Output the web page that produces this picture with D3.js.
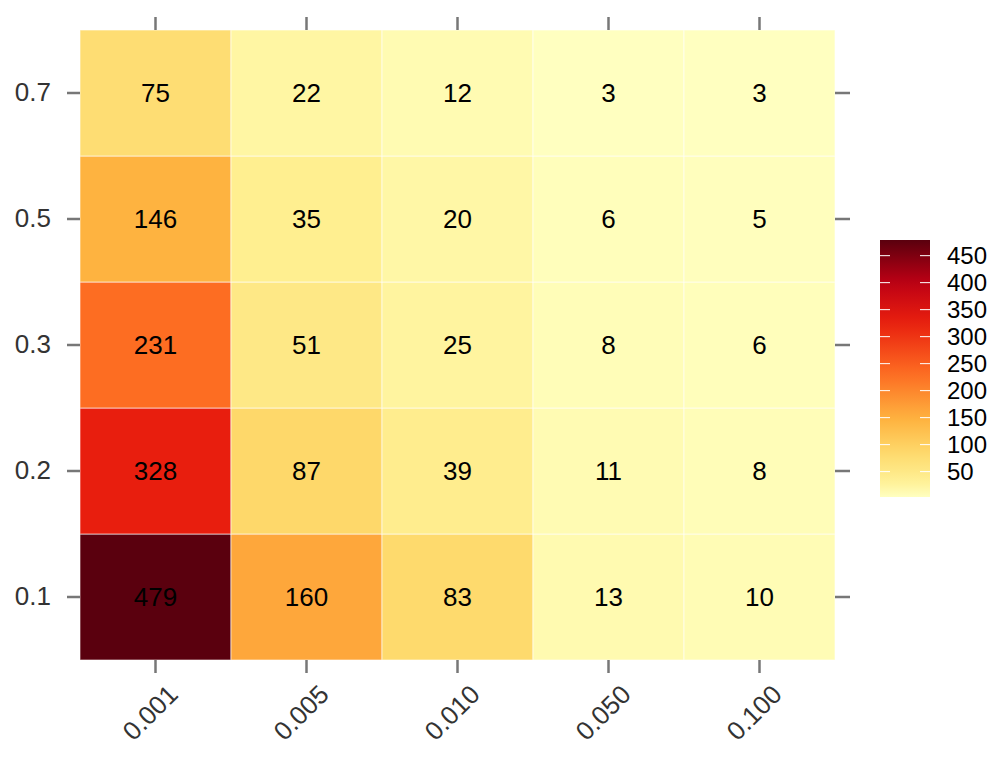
<!DOCTYPE html>
<html>
<head>
<meta charset="utf-8">
<script src="https://cdn.jsdelivr.net/npm/d3@7"></script>
<style>
  body { margin: 0; background: #fff; }
  text { font-family: "Liberation Sans", Arial, sans-serif; }
</style>
</head>
<body>
<script>
// categories
const xLabels = ["0.001", "0.005", "0.010", "0.050", "0.100"];
const yLabels = ["0.1", "0.2", "0.3", "0.5", "0.7"];

// counts, one row per y category (bottom to top), columns follow xLabels
const row01 = [479, 160, 83, 13, 10];
const row02 = [328, 87, 39, 11, 8];
const row03 = [231, 51, 25, 8, 6];
const row05 = [146, 35, 20, 6, 5];
const row07 = [75, 22, 12, 3, 3];
const rows = [row01, row02, row03, row05, row07];

// colour bar ticks
const legendTicks = [50, 100, 150, 200, 250, 300, 350, 400, 450];

const width = 1005;
const height = 758;
const margin = { top: 30, right: 170, bottom: 98, left: 80 };
const plotWidth = width - margin.left - margin.right;
const plotHeight = height - margin.top - margin.bottom;
const fontSize = "26px";

var cells = [];
rows.forEach(function(r, i) {
	r.forEach(function(v, j) {
		cells.push({ x: xLabels[j], y: yLabels[i], value: v });
	});
});

var svg = d3.select("body").append("svg")
	.attr("width", width)
	.attr("height", height);

var plot = svg.append("g")
	.attr("transform", `translate(${margin.left},${margin.top})`);

var xScale = d3.scaleBand().domain(xLabels).range([0, plotWidth]);
var yScale = d3.scaleBand().domain(yLabels).range([plotHeight, 0]);

// colour ramp
var minV = d3.min(cells, d => d.value);
var maxV = d3.max(cells, d => d.value);
var stopVals = [3, 13, 35, 51, 87, 146, 231, 328, 400, 479];
var stopCols = ["#ffffc0", "#fffab0", "#ffef90", "#fee886", "#fed86a",
	"#feb340", "#fd6d22", "#e81e0e", "#bd0015", "#5a000e"];
var color = d3.scaleLinear().domain(stopVals).range(stopCols)
	.interpolate(d3.interpolateRgb).clamp(true);

// cells
plot.selectAll(".cell").data(cells).enter().append("rect")
	.classed("cell", true)
	.attr("x", d => xScale(d.x))
	.attr("y", d => yScale(d.y))
	.attr("width", xScale.bandwidth())
	.attr("height", yScale.bandwidth())
	.attr("fill", d => color(d.value))
	.attr("stroke", "rgba(255,255,255,0.6)")
	.attr("stroke-width", 1);

plot.selectAll(".lab").data(cells).enter().append("text")
	.classed("lab", true)
	.attr("x", d => xScale(d.x) + xScale.bandwidth() / 2)
	.attr("y", d => yScale(d.y) + yScale.bandwidth() / 2)
	.attr("dy", "0.36em")
	.attr("text-anchor", "middle")
	.style("font-size", fontSize)
	.attr("fill", "#000")
	.text(d => d.value);

// axes, ticks on all four sides
var tickColor = "#777";
function styleAxis(g) {
	g.select(".domain").remove();
	g.selectAll(".tick line").attr("stroke", tickColor).attr("stroke-width", 2.5);
	g.selectAll(".tick text").attr("fill", "#333").style("font-size", fontSize)
		.style("font-family", "'Liberation Sans', Arial, sans-serif");
}

var xAxisB = plot.append("g")
	.attr("transform", `translate(0,${plotHeight})`)
	.call(d3.axisBottom(xScale).tickSize(13).tickPadding(4))
	.call(styleAxis);
xAxisB.selectAll(".tick text")
	.attr("text-anchor", "end")
	.attr("dy", 0)
	.attr("transform", "translate(12,24) rotate(-45)");

plot.append("g")
	.call(d3.axisTop(xScale).tickSize(13).tickFormat(""))
	.call(styleAxis);

plot.append("g")
	.call(d3.axisLeft(yScale).tickSize(13).tickPadding(16))
	.call(styleAxis);

plot.append("g")
	.attr("transform", `translate(${plotWidth},0)`)
	.call(d3.axisRight(yScale).tickSize(15).tickFormat(""))
	.call(styleAxis);

// colour bar
var barX = 880, barTop = 240, barBottom = 497, barW = 50;
var barScale = d3.scaleLinear().domain([minV, maxV]).range([barBottom, barTop]);

var defs = svg.append("defs");
var grad = defs.append("linearGradient")
	.attr("id", "bar-grad")
	.attr("x1", 0).attr("y1", 1).attr("x2", 0).attr("y2", 0);
d3.range(0, 1.0001, 0.05).forEach(function(t) {
	var v = minV + t * (maxV - minV);
	grad.append("stop").attr("offset", t).attr("stop-color", color(v));
});

var bar = svg.append("g");
bar.append("rect")
	.attr("x", barX).attr("y", barTop)
	.attr("width", barW).attr("height", barBottom - barTop)
	.attr("fill", "url(#bar-grad)");

bar.selectAll(".bt").data(legendTicks).enter().append("g")
	.each(function(d) {
		var g = d3.select(this);
		var y = barScale(d);
		g.append("line").attr("x1", barX).attr("x2", barX + 10)
			.attr("y1", y).attr("y2", y).attr("stroke", "#fff").attr("stroke-width", 1);
		g.append("line").attr("x1", barX + barW - 10).attr("x2", barX + barW)
			.attr("y1", y).attr("y2", y).attr("stroke", "#fff").attr("stroke-width", 1);
		g.append("text")
			.attr("x", barX + barW + 17)
			.attr("y", y)
			.attr("dy", "0.36em")
			.style("font-size", "24px")
			.attr("fill", "#000")
			.text(d);
	});
</script>
</body>
</html>
